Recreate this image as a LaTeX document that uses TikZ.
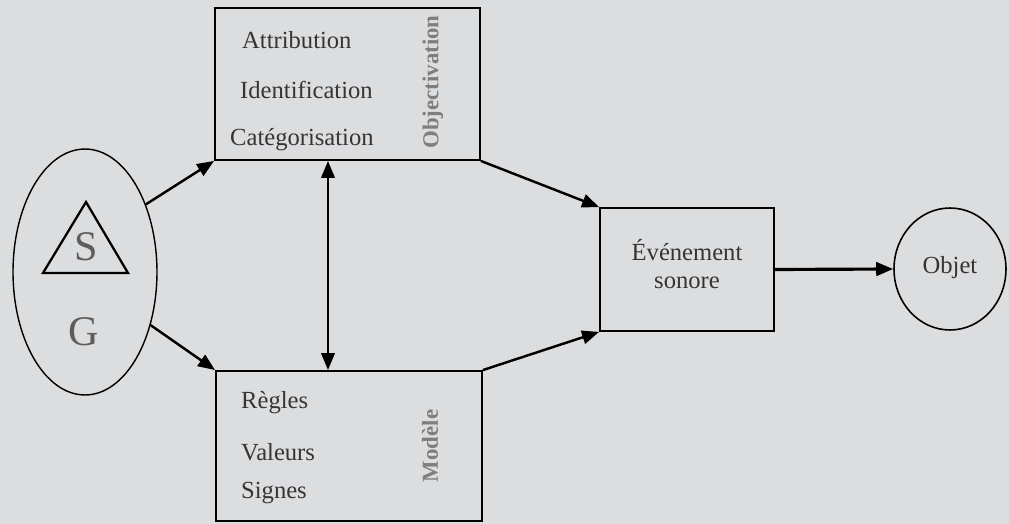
\documentclass[tikz,border=0pt]{standalone}
\usepackage{fontspec}
\setmainfont{Liberation Serif}
\usetikzlibrary{shapes.geometric, arrows.meta, positioning}
\definecolor{bggray}{HTML}{DCDDDF}
\definecolor{txtgray}{HTML}{353535}
\definecolor{titlegray}{HTML}{7E7E7E}
\tikzset{
>={Triangle[length=3.4mm, width=2.7mm]}, % filled arrow heads
box/.style={draw, line width=1.1pt, inner sep=0pt}, % rectangular boxes
item/.style={anchor=west, text=txtgray, font=\fontsize{14}{16}\selectfont}, % listed words
title/.style={rotate=90, text=titlegray, font=\fontsize{13}{15}\selectfont\bfseries}, % vertical box titles
link/.style={->, line width=1.4pt}, % connectors
}

\begin{document}
\begin{tikzpicture}[x=0.02cm, y=-0.02cm]
\fill[bggray] (0,0) rectangle (1009,524);
% source ellipse with S and G
\node[ellipse, draw, line width=0.8pt, minimum width=2.88cm, minimum height=4.92cm] (sg) at (85,272) {};
\draw[line width=1.3pt, line join=miter] (86,202) -- (128,273) -- (43,273) -- cycle;
\node[text=txtgray!80, font=\fontsize{24}{26}\selectfont] (s) at (86,247) {S};
\node[text=txtgray!80, font=\fontsize{24}{26}\selectfont] (g) at (84,332) {G};
% boxes
\node[box, minimum width=5.3cm, minimum height=3.04cm] (obj) at (347.5,84) {};
\node[box, minimum width=5.32cm, minimum height=3cm] (mod) at (349,446) {};
\node[box, minimum width=3.48cm, minimum height=2.46cm] (ev) at (687,269.5) {};
\node[ellipse, draw, line width=0.9pt, minimum width=2.24cm, minimum height=2.44cm] (objet) at (950,269) {};
% texts
\node[item] (attr) at (236,40) {Attribution};
\node[item] (ident) at (234,90) {Identification};
\node[item] (cat) at (224,140) {Catégorisation};
\node[title] (objt) at (433,82) {Objectivation};
\node[item] (regl) at (235,403) {Règles};
\node[item] (val) at (235,452) {Valeurs};
\node[item] (sig) at (235,493) {Signes};
\node[title] (modt) at (430,446) {Modèle};
\node[text=txtgray, font=\fontsize{14}{16}\selectfont, align=center] (evt) at (687,264) {Événement\\sonore};
\node[text=txtgray, font=\fontsize{14}{16}\selectfont] (objett) at (950,268) {Objet};
% connectors
\coordinate (mid) at (328,0);
\draw[link] (sg.48) -- (obj.south west);
\draw[link] (sg.-39) -- (mod.north west);
\draw[link, <->] (obj.south -| mid) -- (mod.north -| mid);
\draw[link] (obj.south east) -- (ev.north west);
\draw[link] (mod.north east) -- (ev.south west);
\draw[link, line width=1.8pt] (ev.east) -- (objet.west);
\end{tikzpicture}
\end{document}
